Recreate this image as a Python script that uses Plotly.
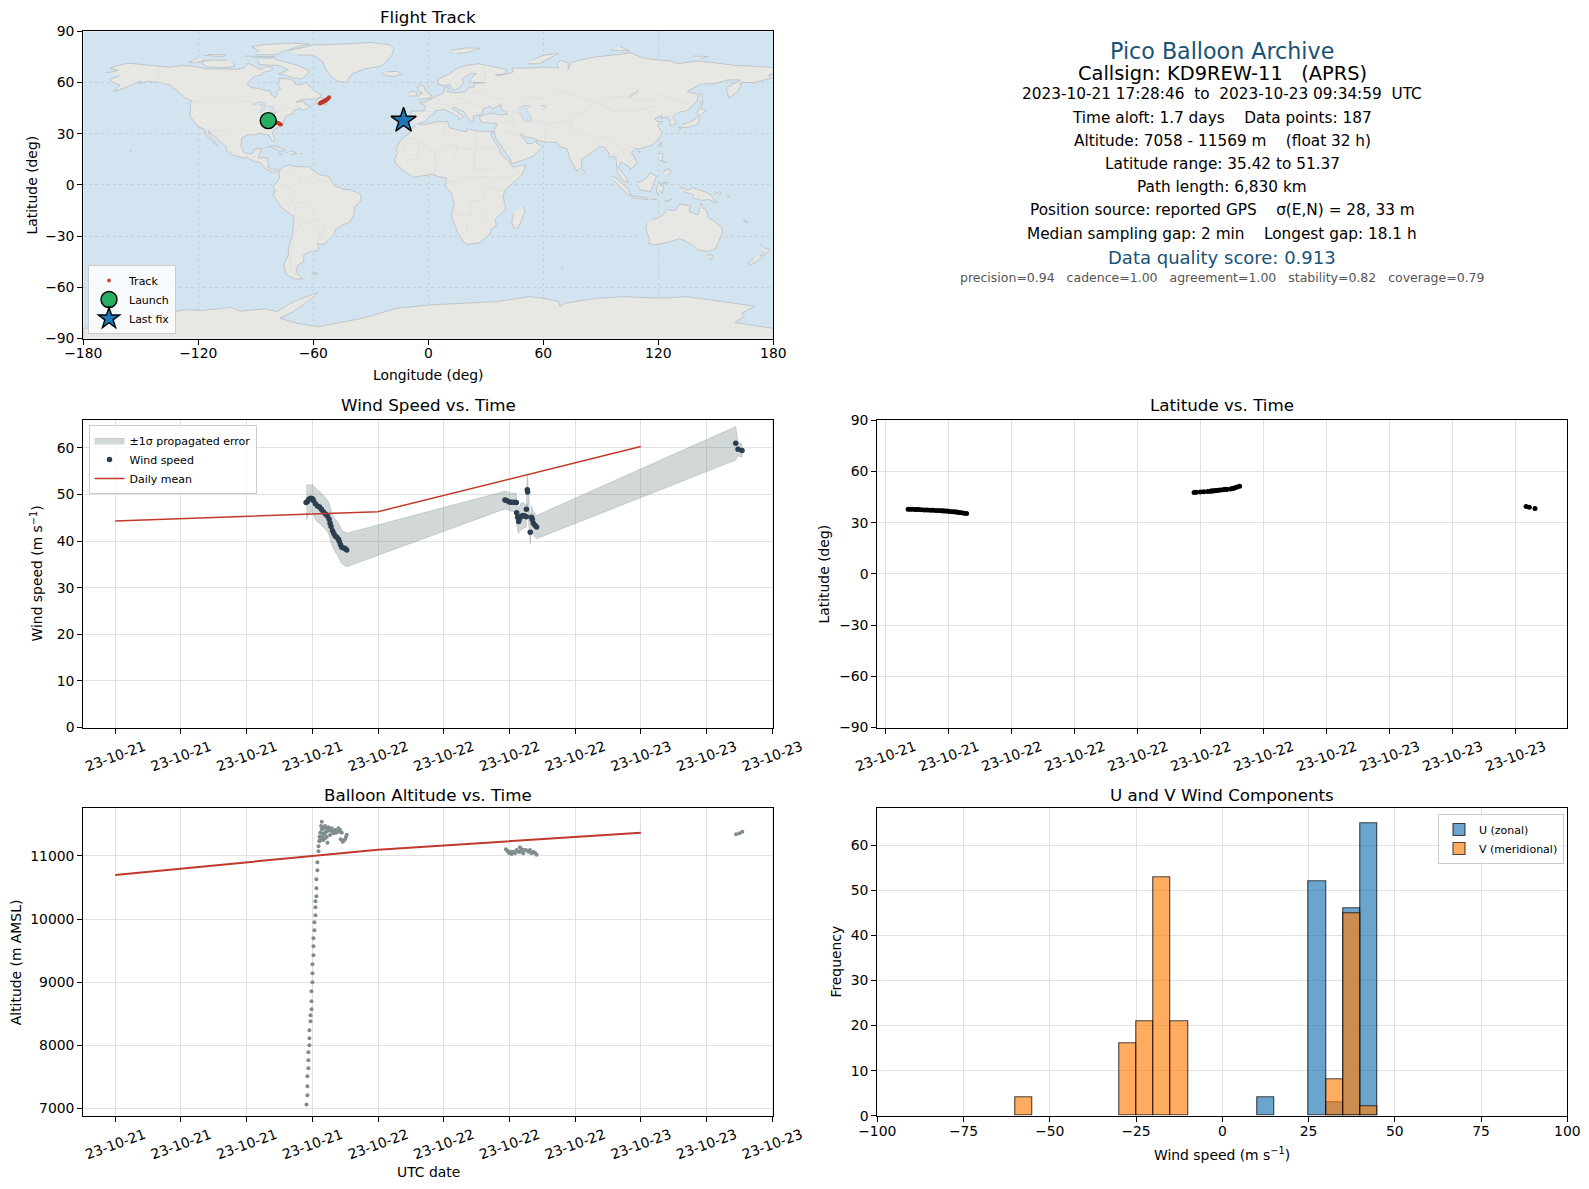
import pandas as pd
import plotly.graph_objects as go

W, H = 1589, 1189
FONT = "DejaVu Sans"
BASE = pd.Timestamp("2023-10-21")

# ---------- flight data (hours after 2023-10-21 00:00 UTC) ----------
hours_seg1 = [17.43,17.55,17.68,17.86,18.01,18.10,18.28,18.47,18.65,18.83,19.01,19.20,19.38,19.53,19.62,19.71,19.84,19.96,20.08,20.23,20.38,20.47,20.57,20.69,20.84,20.99,21.14]
hours_seg2 = [35.59,35.74,35.99,36.20,36.44,36.63,36.66,36.75,36.84,36.90,37.02,37.14,37.26,37.42,37.54,37.55,37.63,37.66,37.90,38.02,38.09,38.18,38.33,38.48]
hours_seg3 = [56.67,56.88,57.24]
wind_hours = hours_seg1 + hours_seg2 + hours_seg3

wind_speed = [48.25,48.5,48.96,49.2,49.1,48.7,48.0,47.5,47.3,46.8,46.25,45.8,45.4,44.7,43.8,43.1,42.2,41.6,41.1,40.8,40.4,39.9,39.2,38.7,38.5,38.4,38.1,
              48.8,48.7,48.4,48.3,48.3,48.25,46.1,45.1,44.2,44.7,45.2,45.4,45.5,45.4,45.2,46.8,51.0,50.5,41.9,45.1,44.6,43.8,43.4,43.0,
              60.96,59.7,59.4]
wind_sigma = [3.75,3.5,3.1,2.9,3.0,3.2,3.3,3.4,3.4,3.4,3.4,3.4,3.4,3.4,3.4,3.4,3.4,3.4,3.5,3.5,3.5,3.5,3.5,3.6,3.6,3.6,3.6,
              1.9,1.9,1.9,1.9,2.0,2.0,2.2,2.8,2.6,2.7,2.8,2.8,2.8,2.5,2.3,1.2,3.0,2.8,2.5,2.5,2.5,2.5,2.5,2.5,
              3.6,1.4,1.4]

mean_days = ["2023-10-21", "2023-10-22", "2023-10-23"]
mean_wind = [44.3, 46.3, 60.3]
mean_alt = [10700, 11100, 11370]

track_lat = [37.9,37.9,37.85,37.8,37.75,37.7,37.6,37.5,37.45,37.35,37.25,37.15,37.1,37.0,36.95,36.9,36.8,36.7,36.6,36.5,36.4,36.3,36.2,36.0,35.8,35.6,35.42,
             47.7,47.85,48.0,48.2,48.35,48.5,48.55,48.65,48.75,48.8,48.95,49.05,49.15,49.3,49.4,49.42,49.5,49.55,49.75,50.0,50.2,50.5,50.9,51.37,
             39.5,39.1,38.3]
track_lon = [-83.5,-83.3,-83.0,-82.8,-82.5,-82.3,-82.1,-81.8,-81.6,-81.3,-81.1,-80.9,-80.6,-80.4,-80.2,-80.0,-79.8,-79.5,-79.3,-79.1,-78.8,-78.6,-78.3,-78.0,-77.7,-77.3,-76.9,
             -56.6,-56.4,-56.2,-56.0,-55.8,-55.6,-55.4,-55.2,-55.0,-54.8,-54.6,-54.4,-54.3,-54.1,-53.9,-53.8,-53.6,-53.4,-53.2,-53.0,-52.7,-52.4,-52.1,-51.7,
             -15.0,-14.0,-13.2]
launch_lon, launch_lat = [-83.5], [37.7]
last_lon, last_lat = [-12.9], [37.8]

alt_hours = [17.46,17.55,17.55,17.55,17.64,17.64,17.64,17.73,17.73,17.73,17.83,17.83,17.92,17.92,17.92,18.01,18.01,18.01,18.10,18.10,18.10,18.19,18.19,18.28,18.28,18.28,18.37,18.37,18.37,18.46,18.46,18.56,18.56,18.65,
             18.86,18.80,18.86,18.71,18.65,18.65,19.01,19.16,19.32,19.47,19.62,19.77,19.93,20.08,20.23,20.38,20.53,20.69,19.01,19.16,19.32,19.38,19.16,19.01,18.86,19.62,19.93,20.84,20.59,20.77,20.99,21.08,21.14,18.71,18.95,19.26,19.56,19.86,20.17,20.47,
             35.68,35.80,35.99,36.20,36.35,36.50,36.66,36.81,36.96,37.11,37.26,37.26,37.51,37.72,37.87,38.02,38.18,38.33,38.48,35.90,36.20,36.96,
             56.70,57.00,57.27]
alt_m = [7059,7207,7349,7508,7635,7761,7888,8000,8110,8237,8380,8475,8570,8697,8855,8998,9140,9283,9426,9568,9695,9822,9949,10060,10186,10281,10361,10488,10630,10773,10900,11074,11153,11232,
         11544,11475,11423,11370,11306,11243,11438,11475,11438,11454,11412,11438,11386,11412,11386,11438,11412,11370,11359,11359,11306,11211,11280,11254,11296,11332,11359,11243,11264,11227,11264,11306,11338,11254,11317,11386,11401,11386,11370,11386,
         11106,11085,11042,11032,11069,11042,11095,11069,11137,11106,11042,11095,11095,11069,11095,11042,11069,11053,11021,11069,11069,11069,
         11345,11360,11385]

# histogram: 5 m/s bins, left edges and counts
u_bin_left = [10, 25, 30, 35, 40]
u_count = [4, 52, 3, 46, 65]
v_bin_left = [-60, -30, -25, -20, -15, 30, 35, 40]
v_count = [4, 16, 21, 53, 21, 8, 45, 2]

# ---------- base map outlines (lon, lat) ----------
land_north_america = [(-168,65.6),(-164,66.5),(-162,67),(-166,68.5),(-162,70),(-156.5,71.3),(-150,70.5),(-141,69.7),(-135,69),(-128,70),(-124,69.7),(-115,68),(-108,68),(-100,67.8),(-96,68.5),(-94,71.5),(-90,69),(-87,67.5),(-85,69.5),(-81.5,69),(-81.5,67),(-86,66),(-87,64.5),(-91,63.5),(-93,61.5),(-94.5,59),(-92.5,57),(-88,56.5),(-85,55.3),(-82.3,55),(-82,53),(-80,51.3),(-78.8,52.5),(-79,55),(-77,56.5),(-78.5,58.7),(-77.5,60),(-78,62.4),(-74,62.3),(-70,61),(-69.5,59),(-66,58.8),(-64.5,60.3),(-62,58),(-60,55.5),(-56,53),(-56,51.5),(-60,50.2),(-66,50.2),(-69,48.5),(-65,49),(-64.5,47.5),(-61,45.8),(-65.5,43.7),(-67,44.9),(-70,43.8),(-70.5,41.8),(-74,40.6),(-75.5,37.5),(-76,35),(-78,33.9),(-81,32),(-81.3,30),(-80,26.8),(-80.5,25.2),(-82,26.5),(-83,29),(-85,29.7),(-89,30.3),(-89.5,29.2),(-94,29.5),(-97.2,27.5),(-97.8,22.5),(-96,19),(-94,18.2),(-91.5,18.7),(-90.5,21),(-87,21.5),(-88,18),(-88.7,15.8),(-84,15.8),(-83.3,12),(-83.7,10.5),(-81.5,9),(-79.5,9.5),(-77.4,8.7),(-78,7.5),(-79.7,8.5),(-81,7.5),(-83,8.3),(-85.5,10),(-87.5,13),(-91.5,14),(-94.5,16.2),(-97,15.9),(-101.5,17.5),(-105.5,20),(-105.3,22),(-108,25),(-110,27),(-112.5,29.5),(-114.7,31.7),(-114.2,28.5),(-111,24.5),(-110,23),(-112,24.5),(-115,28),(-117,32.5),(-120.5,34.5),(-122.5,37.5),(-124.3,40.3),(-124,46),(-124.5,48.3),(-123,49),(-127,51),(-130.5,54.5),(-134,58),(-139,59.8),(-146,60.8),(-151,59.5),(-150,61),(-154,59),(-158,57),(-164,54.7),(-161,58.5),(-165,60.5),(-166,62),(-161,64)]
land_south_america = [(-77.4,8.7),(-75.5,10.7),(-72,12),(-71,11),(-68,10.7),(-62,10.6),(-60,8.5),(-57,6),(-52,5),(-50,1),(-48,-1),(-44,-2.5),(-40,-3),(-35.2,-5.5),(-35,-9),(-38.5,-13),(-39,-18),(-41,-22),(-45,-23.5),(-48.5,-26),(-49,-29),(-53,-33.5),(-55,-35),(-58,-34.2),(-57,-37),(-58,-38.5),(-62,-39),(-65,-41),(-65,-45),(-68,-47),(-69,-51),(-65.5,-55),(-70,-55),(-74,-52.5),(-75.5,-47),(-73,-41),(-73,-37),(-71,-30),(-70,-18.5),(-76,-14),(-81,-6),(-80,-3),(-81,-1),(-79,2),(-77.5,4),(-78,7.5)]
land_africa = [(-5.9,35.8),(-2,35.2),(3,36.8),(10,37.3),(11,33.5),(15,32.3),(20,31),(20,32.8),(25,31.7),(32,31.2),(34.2,31.3),(32.5,29.9),(34,26.5),(37,21.5),(38,18),(43,12.5),(44,10.5),(51,11.9),(49,6),(44,1),(40,-3),(39,-7),(40.5,-14),(35,-20),(35.5,-24),(32.8,-26),(32,-29),(27,-33.8),(20,-34.8),(18.2,-33),(15,-27),(12,-18),(13.5,-11),(12,-5),(9,-1),(9.5,4),(5,5),(2,6.3),(-4,5.2),(-7.7,4.4),(-13,8.5),(-17,12.5),(-17.5,14.7),(-16,19),(-17,21),(-15,25),(-13,27.7),(-10,30),(-9,33),(-6.5,34.5)]
land_eurasia = [(-9,37),(-9.5,38.7),(-8.8,43.2),(-2,43.4),(-1.2,46),(-4.5,48.3),(-1.5,48.7),(1.5,50.5),(4,52),(8,53.7),(8.5,57),(10.5,57.5),(10,54.5),(14,54),(19,54.5),(21,57),(24,57.5),(24,59.3),(30,60),(23,60),(21.5,61.5),(25,65.3),(22,65.5),(17.5,62),(18.5,60),(16.5,57),(14,55.5),(12.5,56),(11,59),(8,58),(5,59),(5,62),(11,65),(15,68.5),(20,70),(26,71),(31,70),(41,67.5),(40,65),(35,64.5),(37,64),(44,66),(44,68.5),(54,68.5),(60,69),(68,68.5),(67,71),(69,73),(73,71.5),(73,68),(75,72),(81,73.5),(87,75),(100,76.5),(105,77.5),(113,74),(127,72.5),(130,71),(140,72.5),(150,71.5),(160,70),(170,69.5),(180,68.8),(180,65),(177.5,64.5),(179,62.5),(170,60),(163,60),(163,57.5),(161,54),(156.7,51),(155.5,57),(163,61.5),(156,61.5),(150,59.5),(142,59),(135,54.7),(141,53),(140,48.5),(135,43.5),(130.5,42.5),(127.5,39.8),(129.5,36),(126.5,34.5),(126,37.5),(124.8,40),(121.5,39),(122,40.5),(118,39),(119,37.3),(122.5,37),(119.5,35),(122,31),(121,28),(117,23.5),(110,21),(108,21.5),(106,19),(109,13),(107,10.5),(105,8.7),(105,10.5),(102,12.5),(100.5,13.5),(99.3,10),(103.5,4),(104,1.3),(101,3),(98.5,8),(98,15),(97,17),(94.5,16),(94,19),(91.5,22.5),(89,22),(86.5,20),(82,16.5),(80,15),(80,10.5),(77.5,8),(74,15),(73,20),(72.5,21),(69,22.3),(67,25),(61.5,25),(57,26),(56,27),(51,28),(48.5,30),(48,29.5),(50,26.5),(51.5,25),(51.5,24.3),(54,24.2),(56.3,26),(56.5,24.5),(59.8,22.5),(55,17),(52,15.7),(45,12.8),(43.3,12.7),(42.8,15),(39,21),(35,28),(34.8,29.5),(34.2,31.3),(36,36),(32.5,36.2),(30,36.3),(27.5,37),(26.5,40),(29,41),(33,42),(38,41),(41.5,41.5),(38,44.5),(38,47),(35,45.7),(33.5,44.5),(32.5,46),(29,45),(28,42),(26,40.8),(23.5,40.5),(23.5,38),(22.5,36.5),(20,40),(19,42.5),(14,45.5),(12.3,45),(16,41.7),(18.5,40),(16,38),(15.7,40),(10.5,43),(8.5,44.3),(3.5,43.3),(3.2,41.8),(0,39.5),(-2,36.8),(-5.5,36)]
land_australia = [(114,-22),(113.5,-26),(115.5,-32),(115,-34.3),(118,-35),(123.5,-34),(131,-31.5),(134,-32.8),(138,-35.5),(140.5,-38),(146,-39),(150,-37.3),(151.5,-33),(153.5,-28),(153,-25),(149,-21),(146,-19),(145.3,-15),(143.5,-14),(142.5,-10.8),(141.5,-13),(140.8,-17.5),(136,-15.5),(136.8,-12.2),(131,-11.3),(129,-15),(125,-14.5),(122,-18),(117,-20.5)]
land_antarctica = [(-180,-90),(-180,-84),(-165,-83),(-155,-80),(-150,-77),(-135,-74.5),(-126,-73),(-119,-73.6),(-103,-71.8),(-98,-74),(-85,-72.5),(-79,-74.2),(-70.4,-68.3),(-63.4,-65.4),(-57.4,-62.8),(-61.7,-67.3),(-67,-71.2),(-70.4,-74.2),(-77.4,-78),(-68.7,-81),(-57.4,-83),(-42.6,-80),(-34,-78),(-16.5,-72.2),(0.9,-70.3),(18,-69.3),(35.7,-68.3),(53,-65.4),(60,-66.4),(67.9,-68.3),(68.7,-71.3),(71,-69.3),(87.9,-66.4),(101.8,-65.4),(120,-66.4),(134.8,-65.4),(152,-68.3),(170.5,-71),(163.5,-75.2),(165,-77.1),(160,-80.6),(180,-84),(180,-90)]
land_islands = [
 [(-80,73.7),(-72,71.5),(-68,70),(-62,67),(-64,64),(-66,62),(-71,62.8),(-75,64.5),(-78,65),(-73,67.5),(-78,70),(-88,70.5),(-89,73)],
 [(-105,73),(-117,73),(-118,71),(-115,69),(-105,68.8),(-101,69.5),(-102,72)],
 [(-120,74.3),(-125,72),(-122,71.5),(-116,73)],
 [(-90,76.3),(-80,76.2),(-76,78),(-68,81),(-62,82.5),(-70,83),(-85,82.3),(-92,81),(-88,78)],
 [(-96,75.5),(-80,75),(-80,74.5),(-92,74.5)],
 [(-117,76),(-107,75),(-106,76.2),(-115,76.5)],
 [(-59,47.7),(-53,46.7),(-53,49),(-56,51.5),(-59,48.5)],
 [(-73,78.5),(-68,80),(-60,82),(-45,82.5),(-30,83.5),(-20,82),(-18,80),(-19,76),(-22,72),(-25,69.5),(-33,68),(-40,65),(-43,60),(-48,61),(-52,65),(-54,69),(-55,72),(-60,76),(-68,76.2)],
 [(-24,65.5),(-22,64),(-18,63.5),(-14,65),(-16,66.5),(-22,66.3)],
 [(-85,22),(-80,23),(-75,20.7),(-74.5,20),(-78,19.9),(-82,22.5)],
 [(-74.3,18.5),(-72,20),(-69,19),(-69,18.3),(-72,18)],
 [(-61,-51.5),(-58,-51.5),(-58,-52.3),(-61,-52.3)],
 [(49.3,-12),(50.5,-15.5),(47,-25),(45,-25.5),(43.5,-22),(44.5,-16.5)],
 [(-5.5,50),(1.3,51),(1.7,52.8),(0,53.5),(-1.5,55),(-2,57.5),(-4,58.6),(-6,57),(-5,55),(-3,54),(-4.5,53),(-5,51.7)],
 [(-10,52),(-6,52.2),(-6,54),(-8,55.3),(-10,54)],
 [(12,79),(20,80.3),(27,80),(20,77.5),(15,77)],
 [(52,71),(58,71),(68,77),(60,76),(54,73)],
 [(95,79),(105,78.5),(100,81)],
 [(138,75.5),(146,75.3),(142,73.8)],
 [(142,54),(143.5,49),(142.5,46),(142,50)],
 [(130.8,34),(135,33.5),(140.5,35.5),(141.5,39),(141,41.3),(139.8,39),(136.5,36.8),(132.5,35.4)],
 [(140,42),(141.5,45.3),(145.2,43.3),(143,42)],
 [(130,33.5),(131.8,33.2),(130.7,31.2)],
 [(120.2,23),(121.7,25),(121,22)],
 [(108.7,19.3),(110.5,20),(110,18.3)],
 [(80,9.5),(81.8,7.5),(80.5,6)],
 [(120.5,18.5),(122.2,18.3),(122,14),(124,13),(120.5,14.5)],
 [(122,7),(125.5,9.7),(126.5,7.5),(125,5.8)],
 [(109,1.5),(111,2),(113,3.2),(116,7),(119,5),(117.5,1),(116,-4),(110.5,-3),(109,0)],
 [(95.3,5.5),(98,4),(104,-2),(106,-5.8),(104.5,-5.8),(100.5,-2),(97,2.5)],
 [(105.2,-6.8),(108.5,-6.5),(114.5,-7.7),(114.5,-8.7),(106.5,-7.5)],
 [(119.5,-5.5),(119,-3),(120,1),(125,1.5),(121,0),(123,-1),(122,-5),(120.5,-3)],
 [(131,-1),(135,-3),(138,-1.7),(144,-3.8),(147.5,-6),(150.5,-10.5),(146,-8.5),(143,-9),(138.5,-8),(138,-5.5),(133,-4)],
 [(145,-41),(148.3,-41),(148,-43),(146,-43.5)],
 [(172.7,-40.6),(174.3,-41.7),(171,-45),(168.5,-46.6),(166.5,-46),(170,-43)],
 [(172.8,-34.5),(175.5,-37),(178.5,-37.8),(175,-41.5),(174.8,-39)],
 [(-156,19),(-155,19.7),(-155.7,20.2)],
 [(164,-20),(167,-22),(165,-21.5)],
 [(69,-48.5),(70.3,-49),(69.3,-49.5)],
 [(149,-5.5),(152,-4),(153,-5),(151,-6)],
 [(155,-6),(157,-7),(156,-7.5)],
 [(123,-9.8),(127,-8.3),(124.5,-10)],
 [(116,-8.5),(119,-8.3),(118,-9)],
 [(-67.2,18.4),(-65.7,18.4),(-66,18)],
 [(-78.3,18.4),(-76.3,18.2),(-77.5,17.8)],
]
lakes = [
 [(47,45),(50,46.5),(53,46.5),(51,44),(53,41),(54,37),(50,37.3),(49,40),(47.5,43)],
 [(-92,46.7),(-88,48.7),(-85,47.8),(-85,46.6),(-88,46.7)],
 [(-87.8,42),(-87,45.5),(-85,46),(-86.3,43)],
 [(-84,46),(-81,46),(-80,44.7),(-82,43),(-83.5,44)],
 [(-83,41.7),(-79,42.8),(-79,42.5),(-82,41.5)],
 [(58.5,46.5),(61.5,46.5),(60,44)],
 [(104,51.5),(109.5,55.5),(109,54),(105,51.5)],
]
borders = [
 [(-141,69.7),(-141,60),(-135,59),(-130,55)],
 [(-123,49),(-95,49),(-89,48),(-83,46),(-82.5,42.5),(-79,43),(-75,45),(-71,45),(-67.5,47),(-67,45)],
 [(-117,32.5),(-108,31.5),(-106,31.7),(-101,29.5),(-97.2,26)],
 [(-92,14.5),(-91,17),(-89,18)],
 [(-72,11),(-72,7),(-67.5,6),(-67,1),(-70,-4.2),(-74,-7),(-70,-11),(-69,-13),(-69.5,-17.5),(-70,-18.5)],
 [(-60,8.5),(-60,5),(-64,2),(-67,1)],
 [(-60,5),(-57,2),(-52,2)],
 [(-69,-11),(-65,-10),(-60,-14),(-58,-20),(-54,-25),(-57,-30),(-53,-33.5)],
 [(-67,-23),(-63,-22),(-58,-20)],
 [(-69.5,-17.5),(-67,-23),(-70,-31),(-72,-42),(-72,-50),(-69,-52)],
 [(-79,1.5),(-75,0),(-70,-4)],
 [(-80,-3.5),(-78,-4),(-75,-1)],
 [(-62,-22),(-58,-27),(-57,-30),(-58,-34)],
 [(-9,27.7),(-4,25),(3,19),(12,23.5),(25,20),(25,31.5)],
 [(25,22),(37,22)],
 [(-17,21),(-13,21),(-12,26),(-9,27.7)],
 [(9,37),(8,30),(12,23.5)],
 [(-5,25),(-5.5,15),(-12,14.5)],
 [(3,19),(4,12),(3,6.5)],
 [(14,13),(15,23)],
 [(24,20),(24,9),(34,9.5),(36,14),(38,18)],
 [(34,4),(42,4),(48,8),(43,11.5)],
 [(29,-1),(30,-8),(22,-10),(22,-18),(12,-17)],
 [(34,4),(30,-1),(40,-4)],
 [(20,-22),(20,-28.5),(17,-28.5)],
 [(33,-26),(32,-22),(25,-18),(33,-15),(35,-11.5),(40.5,-11)],
 [(9.5,2),(16,2),(18,4),(27,5),(34,4)],
 [(3,42.5),(-2,43.4)],
 [(-7,37.5),(-7,42),(-9,42)],
 [(2.5,51),(7,49),(7.5,47.5),(10,47),(13,47),(17,48),(23,48),(29,45)],
 [(14,54),(15,51),(19,49.5),(23,48)],
 [(24,54),(28,56),(28,60)],
 [(23.5,54.5),(32,52),(40,50),(38,47)],
 [(29,69),(30,62),(28,60)],
 [(19,69),(12,61),(12,59)],
 [(23.9,66),(20,69)],
 [(40,43.5),(48,42)],
 [(42,41.5),(44.5,39.5),(44,37),(36.5,36.5)],
 [(44,37),(46,33),(48,30)],
 [(39,32),(46,29),(48,29)],
 [(61,25),(61,31),(61,36),(55,38),(53,41)],
 [(61,36),(74,37),(75,40),(80,42),(87,49),(80,51),(70,55),(60,51),(50,51),(47,48)],
 [(87,49),(98,52),(107,50),(117,50),(120,53),(127,50),(135,48),(131,43)],
 [(87,49),(97,43),(111,44),(120,47),(117,50)],
 [(74,37),(77,32),(80,30),(88,27.5),(97,28),(98,24),(102,21),(106,23),(108,21.5)],
 [(67,25),(71,28),(74,32),(74,37)],
 [(88,27),(89,22)],
 [(92,21),(94,24),(97,28)],
 [(98,24),(100,20),(98,15)],
 [(102,12),(105,14),(107,14.5),(105,19),(102,21)],
 [(124.8,40),(130.5,42.5)],
 [(126.5,38),(128.5,38.5)],
 [(141,-2.6),(141,-9)],
]

# ---------- text ----------
info_lines = [
 ("Pico Balloon Archive", 22.2, "#1a5276", 50.8),
 ("Callsign: KD9REW-11   (APRS)", 19.4, "#000000", 73.1),
 ("2023-10-21 17:28:46  to  2023-10-23 09:34:59  UTC", 15.3, "#000000", 94.4),
 ("Time aloft: 1.7 days    Data points: 187", 15.3, "#000000", 117.8),
 ("Altitude: 7058 - 11569 m    (float 32 h)", 15.3, "#000000", 141.1),
 ("Latitude range: 35.42 to 51.37", 15.3, "#000000", 163.5),
 ("Path length: 6,830 km", 15.3, "#000000", 186.8),
 ("Position source: reported GPS    σ(E,N) = 28, 33 m", 15.3, "#000000", 210.2),
 ("Median sampling gap: 2 min    Longest gap: 18.1 h", 15.3, "#000000", 233.5),
 ("Data quality score: 0.913", 18.0, "#1a5276", 257.9),
 ("precision=0.94   cadence=1.00   agreement=1.00   stability=0.82   coverage=0.79", 12.5, "#555555", 277.2),
]
lon_ticks = [-180, -120, -60, 0, 60, 120, 180]
lat_ticks = [-90, -60, -30, 0, 30, 60, 90]

# ---------- helpers ----------
def to_time(hours):
    return [BASE + pd.Timedelta(hours=h) for h in hours]

def flatten(polys):
    xs, ys = [], []
    for p in polys:
        xs += [q[0] for q in p] + [None]
        ys += [q[1] for q in p] + [None]
    return xs, ys

def dom_x(a, b):
    return [a / W, b / W]

def dom_y(top, bottom):
    return [1 - bottom / H, 1 - top / H]

LEFT = (83.3, 773.3)
RIGHT = (877.3, 1567.3)
ROW1 = (31.3, 338.6)
ROW2 = (420.3, 727.6)
ROW3 = (808.3, 1115.7)

COMMON = dict(showline=True, linecolor="black", linewidth=1.1, mirror=True, ticks="outside", ticklen=5, tickwidth=1.1,
              tickcolor="black", tickfont=dict(size=13.9, color="black", family=FONT), zeroline=False,
              showgrid=True, gridcolor="#e1e1e1", gridwidth=1, automargin=False)
SIX_H = 6 * 3600 * 1000
FOUR_H = 4 * 3600 * 1000
DATE_AXIS = dict(type="date", tickformat="%y-%m-%d", tick0="2023-10-21", tickangle=-20, ticklabelshift=29, ticklabelstandoff=0)
WIDE_RANGE = [BASE + pd.Timedelta(hours=-2.92), BASE + pd.Timedelta(hours=60.1)]
NARROW_RANGE = [BASE + pd.Timedelta(hours=15.47), BASE + pd.Timedelta(hours=59.29)]

fig = go.Figure()

# map
land_x, land_y = flatten([land_north_america, land_south_america, land_africa, land_eurasia, land_australia, land_antarctica] + land_islands)
fig.add_trace(go.Scatter(x=land_x, y=land_y, mode="lines", fill="toself", fillcolor="rgba(233,231,226,0.9)",
                         line=dict(color="#b9bec1", width=0.8), showlegend=False, hoverinfo="skip", xaxis="x", yaxis="y"))
bord_x, bord_y = flatten(borders)
fig.add_trace(go.Scatter(x=bord_x, y=bord_y, mode="lines", line=dict(color="#dcdcd8", width=0.7),
                         showlegend=False, hoverinfo="skip", xaxis="x", yaxis="y"))
lake_x, lake_y = flatten(lakes)
fig.add_trace(go.Scatter(x=lake_x, y=lake_y, mode="lines", fill="toself", fillcolor="#d3e4f1",
                         line=dict(color="#b9bec1", width=0.5), showlegend=False, hoverinfo="skip", xaxis="x", yaxis="y"))
fig.add_trace(go.Scatter(x=track_lon, y=track_lat, mode="markers", name="Track", legend="legend",
                         marker=dict(color="#c0392b", size=4, opacity=0.9), xaxis="x", yaxis="y"))
fig.add_trace(go.Scatter(x=launch_lon, y=launch_lat, mode="markers", name="Launch", legend="legend",
                         marker=dict(color="#27ae60", size=16, line=dict(color="black", width=1.4)), xaxis="x", yaxis="y"))
fig.add_trace(go.Scatter(x=last_lon, y=last_lat, mode="markers", name="Last fix", legend="legend",
                         marker=dict(color="#1f77b4", symbol="star", size=19, line=dict(color="black", width=1.4)), xaxis="x", yaxis="y"))

# wind
wind_t = to_time(wind_hours)
upper = [v + s for v, s in zip(wind_speed, wind_sigma)]
lower = [v - s for v, s in zip(wind_speed, wind_sigma)]
fig.add_trace(go.Scatter(x=wind_t + wind_t[::-1], y=upper + lower[::-1], mode="lines", fill="toself",
                         fillcolor="rgba(127,140,141,0.35)", line=dict(color="rgba(127,140,141,0.3)", width=1),
                         name="±1σ propagated error", legend="legend2", xaxis="x2", yaxis="y2"))
fig.add_trace(go.Scatter(x=wind_t, y=wind_speed, mode="markers", marker=dict(color="#2c3e50", size=5.5),
                         name="Wind speed", legend="legend2", xaxis="x2", yaxis="y2"))
fig.add_trace(go.Scatter(x=mean_days, y=mean_wind, mode="lines", line=dict(color="#c0392b", width=1.5),
                         name="Daily mean", legend="legend2", xaxis="x2", yaxis="y2"))

# latitude
fig.add_trace(go.Scatter(x=wind_t, y=track_lat, mode="markers", marker=dict(color="black", size=5),
                         showlegend=False, xaxis="x3", yaxis="y3"))

# altitude
fig.add_trace(go.Scatter(x=to_time(alt_hours), y=alt_m, mode="markers", marker=dict(color="#7f8c8d", size=4),
                         showlegend=False, xaxis="x4", yaxis="y4"))
fig.add_trace(go.Scatter(x=mean_days, y=mean_alt, mode="lines", line=dict(color="#c0392b", width=2),
                         showlegend=False, xaxis="x4", yaxis="y4"))

# histogram
BIN = 5
fig.add_trace(go.Bar(x=[e + BIN / 2 for e in u_bin_left], y=u_count, width=BIN, name="U (zonal)", legend="legend3",
                     marker=dict(color="rgba(31,119,180,0.66)", line=dict(color="rgba(0,0,0,0.7)", width=1.1)),
                     xaxis="x5", yaxis="y5"))
fig.add_trace(go.Bar(x=[e + BIN / 2 for e in v_bin_left], y=v_count, width=BIN, name="V (meridional)", legend="legend3",
                     marker=dict(color="rgba(255,127,14,0.66)", line=dict(color="rgba(0,0,0,0.7)", width=1.1)),
                     xaxis="x5", yaxis="y5"))

annotations = []
def label(x, y, text, size, color="black", angle=0):
    annotations.append(dict(x=x / W, y=1 - y / H, xref="paper", yref="paper", text=text, showarrow=False,
                            font=dict(size=size, color=color, family=FONT), xanchor="center", yanchor="middle",
                            textangle=angle, borderpad=0, borderwidth=0))

CX_L = sum(LEFT) / 2
CX_R = sum(RIGHT) / 2
for text, size, color, y in info_lines:
    label(CX_R, y, text, size, color)
label(CX_L, 17.5, "Flight Track", 16.7)
label(CX_L, 405.0, "Wind Speed vs. Time", 16.7)
label(CX_R, 405.0, "Latitude vs. Time", 16.7)
label(CX_L, 794.5, "Balloon Altitude vs. Time", 16.7)
label(CX_R, 794.5, "U and V Wind Components", 16.7)
AXIS_SIZE = 13.9
label(CX_L, 374.6, "Longitude (deg)", AXIS_SIZE)
label(31.5, sum(ROW1) / 2, "Latitude (deg)", AXIS_SIZE, angle=-90)
label(36.5, sum(ROW2) / 2, "Wind speed (m s<sup>−1</sup>)", AXIS_SIZE, angle=-90)
label(823.5, sum(ROW2) / 2, "Latitude (deg)", AXIS_SIZE, angle=-90)
label(16.2, sum(ROW3) / 2, "Altitude (m AMSL)", AXIS_SIZE, angle=-90)
label(835.6, sum(ROW3) / 2, "Frequency", AXIS_SIZE, angle=-90)
label(CX_L, 1171.7, "UTC date", AXIS_SIZE)
label(CX_R, 1154.4, "Wind speed (m s<sup>−1</sup>)", AXIS_SIZE)

LEGEND_BASE = dict(bgcolor="rgba(255,255,255,0.8)", bordercolor="#cccccc", borderwidth=1,
                   font=dict(size=11, family=FONT, color="black"), xanchor="left", yanchor="top",
                   tracegroupgap=0, itemclick=False, itemdoubleclick=False)

fig.update_layout(
    width=W, height=H, margin=dict(l=0, r=0, t=0, b=0), autosize=False, paper_bgcolor="white", plot_bgcolor="white",
    font=dict(family=FONT, color="black"), barmode="overlay", bargap=0, annotations=annotations, hovermode=False,
    xaxis=dict(COMMON, domain=dom_x(*LEFT), range=[-180, 180], tickvals=lon_ticks, anchor="y", griddash="dot", gridcolor="#c6d0d7", gridwidth=0.8, ticklabelstandoff=-3),
    yaxis=dict(COMMON, domain=dom_y(*ROW1), range=[-90, 90], tickvals=lat_ticks, anchor="x", griddash="dot", gridcolor="#c6d0d7", gridwidth=0.8),
    xaxis2=dict(COMMON, **DATE_AXIS, domain=dom_x(*LEFT), range=WIDE_RANGE, dtick=SIX_H, anchor="y2"),
    yaxis2=dict(COMMON, domain=dom_y(*ROW2), range=[0, 65.9], dtick=10, anchor="x2"),
    xaxis3=dict(COMMON, **DATE_AXIS, domain=dom_x(*RIGHT), range=NARROW_RANGE, dtick=FOUR_H, anchor="y3"),
    yaxis3=dict(COMMON, domain=dom_y(*ROW2), range=[-90, 90], tickvals=lat_ticks, anchor="x3"),
    xaxis4=dict(COMMON, **DATE_AXIS, domain=dom_x(*LEFT), range=WIDE_RANGE, dtick=SIX_H, anchor="y4"),
    yaxis4=dict(COMMON, domain=dom_y(*ROW3), range=[6883, 11756], dtick=1000, tickformat="d", anchor="x4"),
    xaxis5=dict(COMMON, domain=dom_x(*RIGHT), range=[-100, 100], dtick=25, anchor="y5", ticklabelstandoff=-2),
    yaxis5=dict(COMMON, domain=dom_y(*ROW3), range=[0, 68.25], dtick=10, anchor="x5"),
    legend=dict(LEGEND_BASE, x=88 / W, y=1 - 334 / H, yanchor="bottom"),
    legend2=dict(LEGEND_BASE, x=88.5 / W, y=1 - 425 / H),
    legend3=dict(LEGEND_BASE, x=1438 / W, y=1 - 814 / H),
)
fig.add_shape(type="rect", xref="x domain", yref="y domain", x0=0, x1=1, y0=0, y1=1, fillcolor="#d3e4f1", line_width=0, layer="below")

fig.write_html("out.html", post_script="document.body.style.margin='0';", config=dict(displayModeBar=False))
